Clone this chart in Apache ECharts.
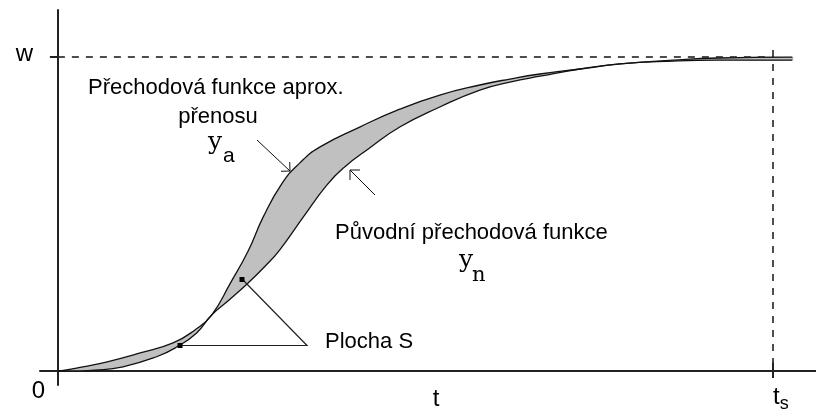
<!DOCTYPE html>
<html>
<head>
<meta charset="utf-8">
<script src="https://cdn.jsdelivr.net/npm/echarts@6/dist/echarts.min.js"></script>
<style>
  html, body { margin: 0; padding: 0; background: #fff; }
  #chart { width: 816px; height: 412px; }
</style>
</head>
<body>
<div id="chart"></div>
<script>
// Step responses, time scaled so that the settling time ts = 10, output normalised to w = 1

// approximating transfer function y_a
const approxT = [0, 0.10, 0.35, 0.69, 1.15, 1.61, 1.92, 2.15, 2.41, 2.66, 2.87, 3.13, 3.38, 3.66,
                 4.22, 4.78, 5.34, 5.90, 6.32, 6.74, 7.30, 7.86, 8.60, 9.22, 10.27];
const approxY = [0, 0.002, 0.013, 0.029, 0.057, 0.089, 0.131, 0.178, 0.279, 0.382, 0.490, 0.596, 0.662, 0.713,
                 0.777, 0.834, 0.879, 0.911, 0.930, 0.946, 0.962, 0.978, 0.990, 0.997, 1.0];

// original step response y_n
const origT = [0, 0.31, 0.52, 0.91, 1.38, 1.66, 1.94, 2.15, 2.41, 2.66, 2.90, 3.10, 3.43, 3.76, 4.01,
               4.34, 4.78, 5.34, 5.90, 6.32, 6.74, 7.30, 7.86, 8.60, 9.22, 10.27];
const origY = [0, 0, 0.002, 0.013, 0.045, 0.076, 0.121, 0.178, 0.229, 0.280, 0.334, 0.385, 0.490, 0.592, 0.650,
               0.707, 0.777, 0.841, 0.895, 0.920, 0.939, 0.962, 0.978, 0.987, 0.990, 0.990];

const settleTime = 10;      // ts
const setpoint = 1;         // w
const yTickLabels = { 0: '0', 1: 'w' };
const xAxisName = 't';

const approxCaption = ['Přechodová funkce aprox.', 'přenosu'];
const origCaption = 'Původní přechodová funkce';
const areaCaption = 'Plocha S';

const INK = '#111';
const SANS = '"Liberation Sans", Arial, sans-serif';
const SERIF = '"DejaVu Serif", "Liberation Serif", serif';

const pairs = (xs, ys) => xs.map((x, i) => [x, ys[i]]);

// open arrow: shaft plus a V-shaped head at the tip
function arrow(x1, y1, x2, y2, head) {
  const dx = x1 - x2, dy = y1 - y2;
  const len = Math.hypot(dx, dy);
  const ux = dx / len, uy = dy / len;
  const c = Math.cos(Math.PI / 4), s = Math.sin(Math.PI / 4);
  const a = [x2 + head * (ux * c - uy * s), y2 + head * (ux * s + uy * c)];
  const b = [x2 + head * (ux * c + uy * s), y2 + head * (-ux * s + uy * c)];
  return [
    { type: 'polyline', z: 20, shape: { points: [[x1, y1], [x2, y2]] }, style: { stroke: INK, lineWidth: 1, fill: null }, silent: true },
    { type: 'polyline', z: 20, shape: { points: [a, [x2, y2], b] }, style: { stroke: INK, lineWidth: 1, fill: null }, silent: true }
  ];
}

function text(str, x, y, size, family, align) {
  return {
    type: 'text', x: x, y: y, silent: true, z: 20,
    style: { text: str, font: size + 'px ' + family, fill: '#000', align: align || 'left', verticalAlign: 'middle' }
  };
}

const chart = echarts.init(document.getElementById('chart'), null, { renderer: 'canvas' });

chart.setOption({
  animation: false,
  backgroundColor: '#fff',
  grid: { left: 40, right: 0, top: 10, bottom: 27, containLabel: false, outerBoundsMode: 'none' },
  xAxis: {
    type: 'value', min: -0.25, max: 10.6,
    axisLine: { onZero: true, lineStyle: { color: '#222', width: 2 } },
    splitLine: { show: false },
    axisTick: { customValues: [settleTime], length: 7, lineStyle: { color: '#222', width: 2 } },
    axisLabel: {
      customValues: [settleTime], align: 'left', margin: 0,
      formatter: () => '{t|t}{s|s}',
      rich: {
        t: { fontSize: 24, fontFamily: SANS, color: '#000', lineHeight: 24, verticalAlign: 'top' },
        s: { fontSize: 18, fontFamily: SANS, color: '#000', lineHeight: 18, verticalAlign: 'top', padding: [10, 0, 0, 0] }
      }
    },
    name: xAxisName, nameLocation: 'middle', nameGap: 2, nameMoveOverlap: false,
    nameTextStyle: { fontSize: 24, fontFamily: SANS, color: '#000', padding: [0, 0, 0, 16] }
  },
  yAxis: {
    type: 'value', min: -0.045, max: 1.15,
    axisLine: { onZero: true, lineStyle: { color: '#222', width: 2 } },
    splitLine: { show: false },
    axisTick: { customValues: [setpoint], length: 8, lineStyle: { color: '#222', width: 2 } },
    axisLabel: {
      customValues: [0, setpoint], margin: -5,
      formatter: v => (v === 0 ? '{z|' : '{w|') + yTickLabels[v] + '}',
      rich: {
        z: { fontSize: 24, fontFamily: SANS, color: '#000', lineHeight: 24, padding: [40, 0, 0, 0] },
        w: { fontSize: 24, fontFamily: SANS, color: '#000', lineHeight: 24, padding: [0, 12, 6, 0] }
      }
    }
  },
  series: [
    {
      // shaded area S between the two responses
      type: 'custom',
      silent: true,
      z: 1,
      data: [[0, 0]],
      renderItem: function (params, api) {
        const pts = [];
        for (let i = 0; i < approxT.length; i++) pts.push(api.coord([approxT[i], approxY[i]]));
        for (let i = origT.length - 1; i >= 0; i--) pts.push(api.coord([origT[i], origY[i]]));
        return { type: 'polygon', shape: { points: pts, smooth: 0.5 }, style: { fill: '#c0c0c0', stroke: null } };
      }
    },
    {
      name: 'y_a', type: 'line', smooth: 0.5, symbol: 'none', z: 3, silent: true,
      data: pairs(approxT, approxY),
      lineStyle: { color: INK, width: 1.3 },
      markLine: {
        silent: true, symbol: 'none', label: { show: false },
        data: [
          [{ coord: [0, setpoint] }, { coord: [settleTime, setpoint] }],
          [{ coord: [settleTime, setpoint * 1.0225] }, { coord: [settleTime, 0] }]
        ],
        lineStyle: { color: '#222', width: 1.6, type: [7, 7] }
      }
    },
    {
      name: 'y_n', type: 'line', smooth: 0.5, symbol: 'none', z: 3, silent: true,
      data: pairs(origT, origY),
      lineStyle: { color: INK, width: 1.3 },
      markLine: {
        silent: true, symbol: 'none', label: { show: false },
        data: [[{ coord: [settleTime, 0] }, { coord: [settleTime, setpoint * 0.027] }]],
        lineStyle: { color: '#222', width: 2, type: 'solid' }
      }
    }
  ],
  graphic: [
    text(approxCaption[0], 88, 88, 22, SANS),
    text(approxCaption[1], 218, 117, 22, SANS, 'center'),
    text('y', 208, 142, 25, SERIF),
    text('a', 223, 156, 21, SANS),
    ...arrow(257, 140, 290, 171, 9),
    text(origCaption, 335, 233, 22, SANS),
    text('y', 459, 260, 25, SERIF),
    text('n', 472, 276, 21, SERIF),
    ...arrow(375, 195, 350, 170, 10),
    { type: 'polyline', silent: true, z: 20, shape: { points: [[180, 345.5], [307, 345.5], [243, 280]] },
      style: { stroke: '#222', lineWidth: 1.2, fill: null } },
    { type: 'rect', silent: true, z: 21, shape: { x: 177.5, y: 343, width: 5, height: 5 }, style: { fill: '#000' } },
    { type: 'rect', silent: true, z: 21, shape: { x: 239.5, y: 277, width: 5, height: 5 }, style: { fill: '#000' } },
    text(areaCaption, 325, 342, 22, SANS)
  ]
});
</script>
</body>
</html>
